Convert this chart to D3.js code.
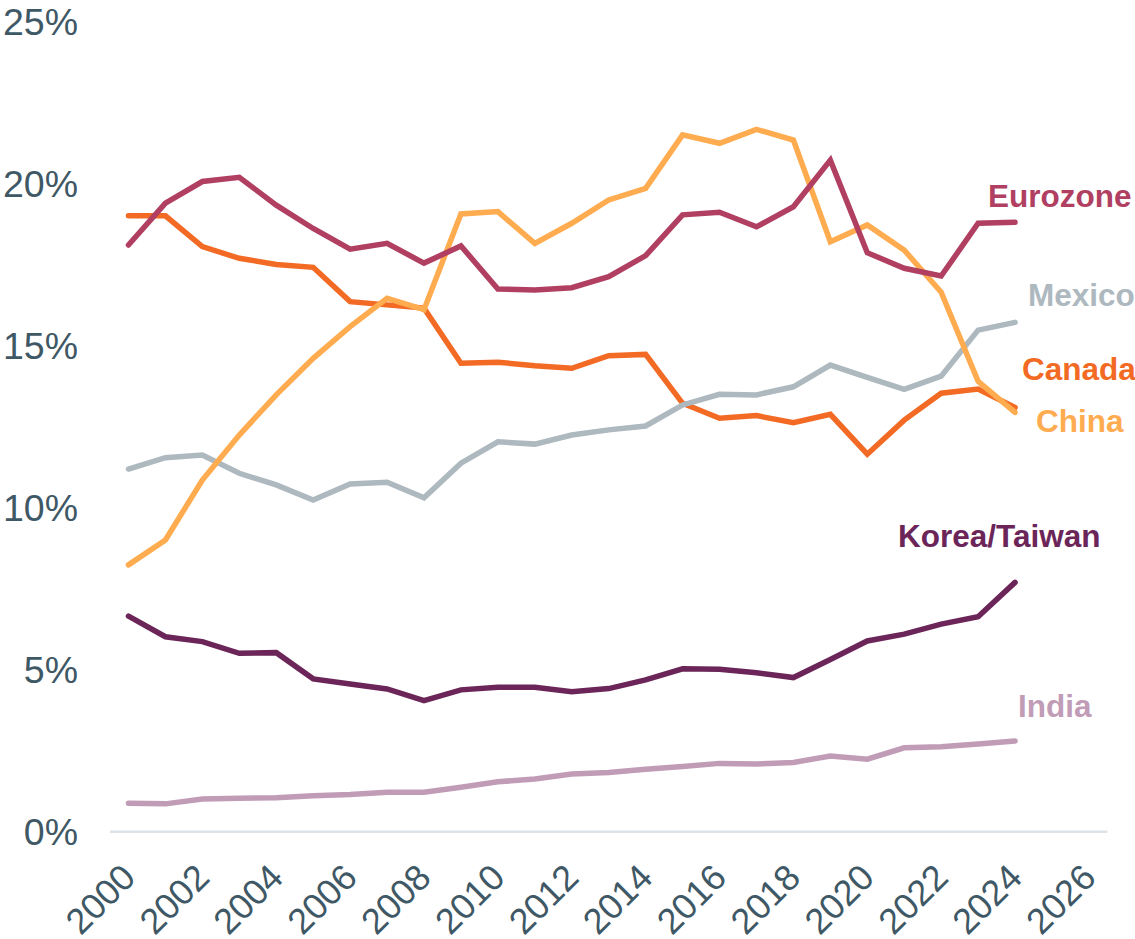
<!DOCTYPE html>
<html>
<head>
<meta charset="utf-8">
<script src="https://cdn.jsdelivr.net/npm/d3@7"></script>
<style>
  html, body { margin: 0; padding: 0; background: #fff; }
  svg { display: block; font-family: "Liberation Sans", Arial, sans-serif; }
</style>
</head>
<body>
<svg id="chart" width="1135" height="939"></svg>
<script>
const years = d3.range(2000, 2025);
const eurozone = [18.12, 19.41, 20.08, 20.21, 19.35, 18.63, 17.99, 18.17, 17.56, 18.09, 16.76, 16.73, 16.80, 17.14, 17.79, 19.05, 19.13, 18.68, 19.30, 20.74, 17.88, 17.40, 17.16, 18.79, 18.82];
const canada   = [19.02, 19.02, 18.07, 17.71, 17.52, 17.43, 16.37, 16.27, 16.17, 14.47, 14.50, 14.39, 14.31, 14.70, 14.74, 13.23, 12.77, 12.85, 12.63, 12.89, 11.66, 12.71, 13.54, 13.67, 13.10];
const china    = [8.24, 9.01, 10.86, 12.25, 13.49, 14.62, 15.60, 16.47, 16.12, 19.08, 19.15, 18.17, 18.79, 19.51, 19.87, 21.52, 21.26, 21.69, 21.36, 18.22, 18.74, 17.96, 16.66, 13.91, 12.95];
const mexico   = [11.20, 11.55, 11.63, 11.07, 10.71, 10.24, 10.74, 10.79, 10.31, 11.38, 12.04, 11.97, 12.25, 12.41, 12.53, 13.18, 13.51, 13.49, 13.74, 14.41, 14.03, 13.66, 14.07, 15.49, 15.73];
const koreaTaiwan = [6.66, 6.02, 5.87, 5.51, 5.53, 4.72, 4.56, 4.41, 4.05, 4.38, 4.46, 4.46, 4.32, 4.42, 4.69, 5.03, 5.02, 4.91, 4.76, 5.32, 5.89, 6.10, 6.41, 6.64, 7.70];
const india    = [0.88, 0.86, 1.01, 1.03, 1.05, 1.11, 1.15, 1.22, 1.22, 1.37, 1.54, 1.63, 1.78, 1.83, 1.93, 2.01, 2.11, 2.09, 2.14, 2.34, 2.24, 2.59, 2.62, 2.71, 2.80];
const seriesNames = ["India", "Korea/Taiwan", "Canada", "Mexico", "China", "Eurozone"];
const xTickValues = d3.range(2000, 2027, 2);
const yTickValues = [0, 5, 10, 15, 20, 25];

// styling / layout (kept separate from data)
const colors = {
  "Eurozone": "#B03F62",
  "Canada": "#F26A24",
  "China": "#FFAB4F",
  "Mexico": "#ADB8BF",
  "Korea/Taiwan": "#6B2559",
  "India": "#C19CB7"
};
// label placement: anchored at last point, pixel offsets
const labelOffsets = {
  "Eurozone":     { dx: -27, dy: -15 },
  "Mexico":       { dx: 13,  dy: -16 },
  "Canada":       { dx: 7,   dy: -28 },
  "China":        { dx: 21,  dy: 20 },
  "Korea/Taiwan": { dx: -117, dy: -35 },
  "India":        { dx: 3,   dy: -24 }
};

const valuesByName = {
  "Eurozone": eurozone, "Canada": canada, "China": china,
  "Mexico": mexico, "Korea/Taiwan": koreaTaiwan, "India": india
};

const svg = d3.select("#chart");
const x = d3.scaleLinear().domain([1999.5, 2026.5]).range([110, 1107.4]);
const y = d3.scaleLinear().domain([0, 25]).range([831.7, 22.2]);
const textColor = "#3F5866";

// x axis line
svg.append("line")
  .attr("x1", x.range()[0]).attr("x2", x.range()[1])
  .attr("y1", y(0)).attr("y2", y(0))
  .attr("stroke", "#DDE3E7").attr("stroke-width", 2.5);

// y tick labels
svg.append("g").selectAll("text").data(yTickValues).join("text")
  .attr("x", 78).attr("y", d => y(d))
  .attr("dy", "0.35em")
  .attr("text-anchor", "end")
  .attr("font-size", 37.5)
  .attr("fill", textColor)
  .text(d => d + "%");

// x tick labels
svg.append("g").selectAll("text").data(xTickValues).join("text")
  .attr("transform", d => `translate(${x(d) + 9},${y(0) + 48}) rotate(-45)`)
  .attr("text-anchor", "end")
  .attr("font-size", 36)
  .attr("fill", textColor)
  .text(d => d);

const line = d3.line().x((d, i) => x(years[i])).y(d => y(d));

seriesNames.forEach(name => {
  svg.append("path")
    .datum(valuesByName[name])
    .attr("fill", "none")
    .attr("stroke", colors[name])
    .attr("stroke-width", 5.5)
    .attr("stroke-linecap", "round")
    .attr("stroke-linejoin", "miter")
    .attr("d", line);
});

seriesNames.forEach(name => {
  const vals = valuesByName[name];
  const lastI = vals.length - 1;
  const off = labelOffsets[name];
  svg.append("text")
    .attr("x", x(years[lastI]) + off.dx)
    .attr("y", y(vals[lastI]) + off.dy)
    .attr("font-size", 31.5)
    .attr("font-weight", "bold")
    .attr("fill", colors[name])
    .text(name);
});
</script>
</body>
</html>
